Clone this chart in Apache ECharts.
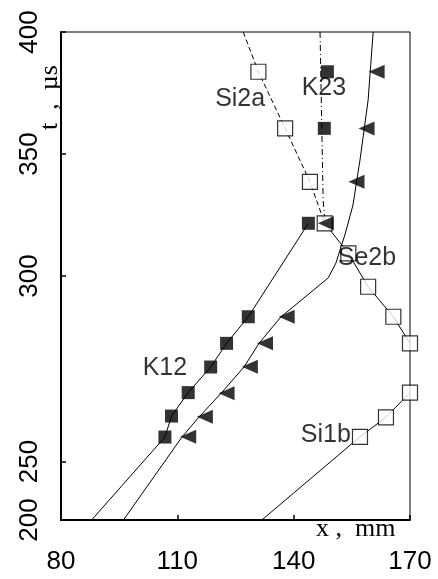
<!DOCTYPE html>
<html>
<head>
<meta charset="utf-8">
<script src="https://cdn.jsdelivr.net/npm/echarts@6/dist/echarts.min.js"></script>
<style>
html,body{margin:0;padding:0;background:#fff;}
#c{width:438px;height:579px;}
</style>
</head>
<body>
<div id="c"></div>
<script>
// ---- axis ticks ----
const xTickValues = [80, 110, 140, 170];
const yTickValues = [200, 224, 300, 350, 400];
const yTickLabels = ['200', '250', '300', '350', '400'];

// ---- K12 (filled squares, solid line) ----
const k12LineX = [87.9, 106.8, 108.5, 112.8, 118.6, 122.7, 128.3, 143.8];
const k12LineT = [200, 234.0, 242.6, 252.2, 262.7, 272.4, 283.3, 321.6];
const k12MarkX = [106.8, 108.5, 112.8, 118.6, 122.7, 128.3, 143.8];
const k12MarkT = [234.0, 242.6, 252.2, 262.7, 272.4, 283.3, 321.6];

// ---- K23 (filled squares, dash-dot line) ----
const k23LineX = [146.8, 147.6, 148.1];
const k23LineT = [400, 331.1, 321.6];
const k23MarkX = [147.9, 148.7];
const k23MarkT = [360.5, 383.7];

// ---- triangles (solid line) ----
const triLineX = [96.1, 111.2, 115.6, 121.3, 127.2, 131.1, 136.7, 148.9, 150.9, 153.2, 155.3, 157.1, 159.2, 160.5];
const triLineT = [200, 234.0, 242.2, 252.0, 262.7, 272.5, 283.2, 299.2, 305.3, 316.8, 329.1, 347.5, 372.1, 400];
const triMarkX = [112.8, 117.1, 122.7, 128.7, 132.6, 138.2, 148.3, 156.2, 158.8, 161.4];
const triMarkT = [234.1, 242.3, 251.9, 262.8, 272.4, 283.3, 321.6, 338.6, 360.5, 383.7];

// ---- Si2a (open squares, dashed line) ----
const si2aLineX = [127.0, 130.9, 137.8, 144.2, 148.0];
const si2aLineT = [400, 383.7, 360.5, 338.6, 321.6];
const si2aMarkX = [130.9, 137.8, 144.2, 148.0];
const si2aMarkT = [383.7, 360.5, 338.6, 321.6];

// ---- Se2b (open squares, solid line) ----
const se2bLineX = [148.0, 154.1, 159.2, 165.7, 170.0];
const se2bLineT = [321.6, 309.3, 295.6, 283.3, 272.4];
const se2bMarkX = [154.1, 159.2, 165.7, 170.0];
const se2bMarkT = [309.3, 295.6, 283.3, 272.4];

// ---- Si1b (open squares, solid line) ----
const si1bLineX = [131.8, 157.1, 163.8, 170.0];
const si1bLineT = [200, 234.1, 242.1, 252.2];
const si1bMarkX = [157.1, 163.8, 170.0];
const si1bMarkT = [234.1, 242.1, 252.2];

// ---- curve labels ----
const labelNames = ['Si2a', 'K23', 'Se2b', 'K12', 'Si1b'];
const labelX = [126.2, 147.8, 158.9, 106.8, 148.3];
const labelT = [372.5, 377.0, 307.4, 262.3, 234.8];

const zip = (a, b) => a.map((v, i) => [v, b[i]]);
const SANS = "'Liberation Sans', Arial, sans-serif";
const SERIF = "'Liberation Serif', 'Times New Roman', serif";

function lineSeries(name, xs, ts, type) {
  return {
    name: name, type: 'line', data: zip(xs, ts), showSymbol: false, symbol: 'none',
    clip: false, z: 2, animation: false,
    lineStyle: { color: '#000', width: 1, type: type || 'solid' }
  };
}
function markSeries(name, xs, ts, kind) {
  const s = { name: name, type: 'scatter', data: zip(xs, ts), clip: false, z: 3, animation: false };
  if (kind === 'filled') {
    s.symbol = 'rect'; s.symbolSize = 13;
    s.itemStyle = { color: '#000' };
  } else if (kind === 'open') {
    s.symbol = 'rect'; s.symbolSize = 15;
    s.itemStyle = { color: '#fff', borderColor: '#000', borderWidth: 1.2 };
  } else {
    s.symbol = 'triangle'; s.symbolSize = [14, 16]; s.symbolRotate = 90;
    s.itemStyle = { color: '#000' }; s.z = 4;
  }
  return s;
}

const chart = echarts.init(document.getElementById('c'), null, { renderer: 'canvas' });
chart.setOption({
  animation: false,
  backgroundColor: '#fff',
  grid: { left: 61, top: 32, right: 28, bottom: 59, show: true, borderColor: '#000', borderWidth: 1 },
  xAxis: {
    type: 'value', min: 80, max: 170, interval: 30,
    axisLine: { show: true, onZero: false, lineStyle: { color: '#000', width: 2 } },
    axisTick: { show: true, inside: true, length: 5, lineStyle: { color: '#000', width: 1.5 } },
    splitLine: { show: false },
    axisLabel: {
      color: '#000', fontSize: 26, fontFamily: SANS, margin: 29,
      customValues: xTickValues,
      formatter: v => String(v)
    }
  },
  yAxis: {
    type: 'value', min: 200, max: 400,
    axisLine: { show: true, onZero: false, lineStyle: { color: '#000', width: 2 } },
    axisTick: { show: true, inside: true, length: 5, customValues: yTickValues, lineStyle: { color: '#000', width: 1.5 } },
    splitLine: { show: false },
    axisLabel: {
      color: '#000', fontSize: 26, fontFamily: SANS, margin: 18, rotate: 90,
      customValues: yTickValues,
      formatter: v => yTickLabels[yTickValues.indexOf(v)]
    }
  },
  graphic: [
    { type: 'text', left: 316, top: 516, z: 10,
      style: { text: 'x ,  mm', font: "26px " + SERIF, fill: '#000' } },
    { type: 'text', x: 37, y: 130, rotation: Math.PI / 2, z: 10,
      style: { text: 't  ,  µs', font: "26px " + SERIF, fill: '#000' } }
  ],
  series: [
    lineSeries('K12', k12LineX, k12LineT),
    lineSeries('K23', k23LineX, k23LineT, [6, 3, 1, 3]),
    lineSeries('triangles', triLineX, triLineT),
    lineSeries('Si2a', si2aLineX, si2aLineT, [5, 3]),
    lineSeries('Se2b', se2bLineX, se2bLineT),
    lineSeries('Si1b', si1bLineX, si1bLineT),
    markSeries('Si2a', si2aMarkX, si2aMarkT, 'open'),
    markSeries('Se2b', se2bMarkX, se2bMarkT, 'open'),
    markSeries('Si1b', si1bMarkX, si1bMarkT, 'open'),
    markSeries('K12', k12MarkX, k12MarkT, 'filled'),
    markSeries('K23', k23MarkX, k23MarkT, 'filled'),
    markSeries('triangles', triMarkX, triMarkT, 'tri'),
    {
      name: 'labels', type: 'scatter', symbolSize: 0, clip: false, z: 6, animation: false,
      data: labelNames.map((n, i) => ({ name: n, value: [labelX[i], labelT[i]] })),
      label: { show: true, position: 'inside', formatter: p => p.name, color: '#000', fontSize: 25, fontFamily: SANS }
    }
  ]
});
</script>
</body>
</html>
